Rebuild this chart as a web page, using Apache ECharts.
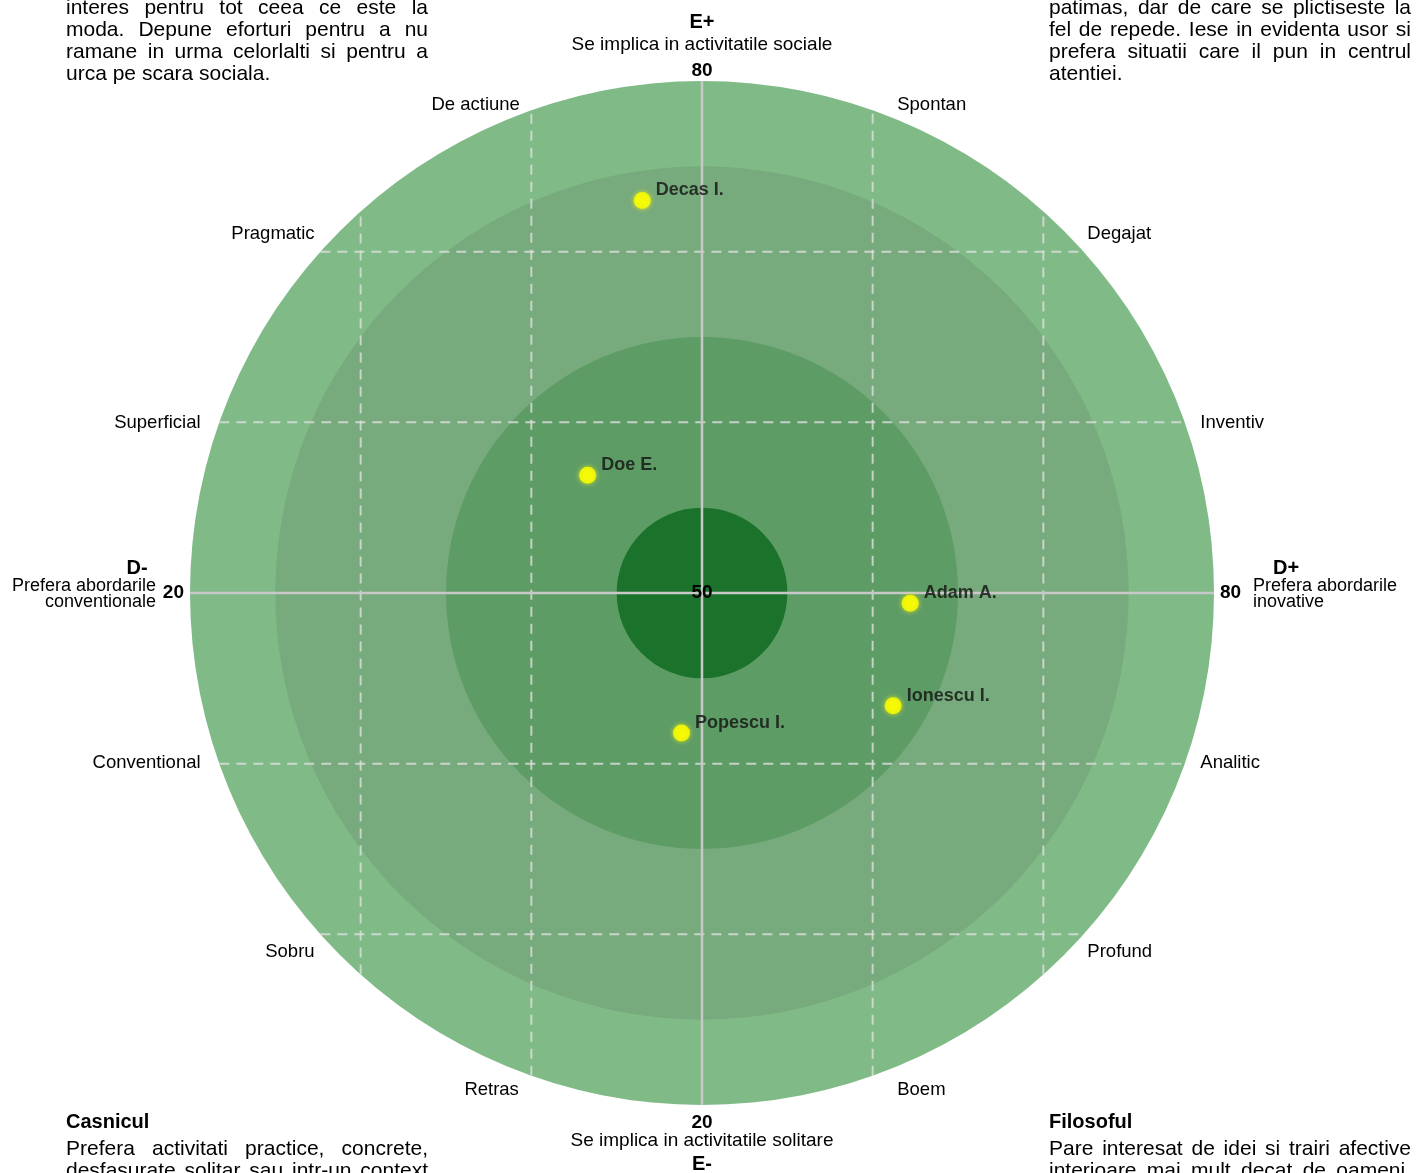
<!DOCTYPE html>
<html><head><meta charset="utf-8">
<script src="https://cdn.jsdelivr.net/npm/echarts@6/dist/echarts.min.js"></script>
<style>html,body{margin:0;padding:0;background:#fff}#c{width:1420px;height:1173px}</style>
</head><body><div id="c"></div>
<script>
const FAMILY = "'Liberation Sans', Arial, Helvetica, sans-serif";

// ---- data ----
const personNames = ['Decas I.', 'Doe E.', 'Adam A.', 'Ionescu I.', 'Popescu I.'];
const personX = [46.5, 43.3, 62.2, 61.2, 48.8];
const personY = [73.0, 56.9, 49.4, 43.4, 41.8];

const axisMin = 20, axisMid = 50, axisMax = 80;
const ringRadii = [30, 25, 15, 5];
const ringColors = ['#80bb87', '#77aa7c', '#5e9c66', '#1b722b'];
const gridValues = [30, 40, 60, 70];
const tickLabels = ['20', '50', '80'];

const descriptorNames = ['De actiune', 'Spontan', 'Pragmatic', 'Degajat', 'Superficial', 'Inventiv',
  'Conventional', 'Analitic', 'Sobru', 'Profund', 'Retras', 'Boem'];

const yTitleTop = 'E+', yDescTop = 'Se implica in activitatile sociale';
const yTitleBottom = 'E-', yDescBottom = 'Se implica in activitatile solitare';
const xTitleLeft = 'D-', xDescLeft = ['Prefera abordarile', 'conventionale'];
const xTitleRight = 'D+', xDescRight = ['Prefera abordarile', 'inovative'];

const textTopLeft = ['interes pentru tot ceea ce este la', 'moda. Depune eforturi pentru a nu',
  'ramane in urma celorlalti si pentru a', 'urca pe scara sociala.'];
const textTopRight = ['patimas, dar de care se plictiseste la', 'fel de repede. Iese in evidenta usor si',
  'prefera situatii care il pun in centrul', 'atentiei.'];
const titleBottomLeft = 'Casnicul';
const textBottomLeft = ['Prefera activitati practice, concrete,', 'desfasurate solitar sau intr-un context'];
const titleBottomRight = 'Filosoful';
const textBottomRight = ['Pare interesat de idei si trairi afective', 'interioare mai mult decat de oameni.'];

// ---- layout (not data) ----
const descLayout = [
  [39.33, 78.74, 'right'], [61.44, 78.74, 'left'],
  [27.3, 71.17, 'right'], [72.58, 71.17, 'left'],
  [20.62, 60.09, 'right'], [79.2, 60.09, 'left'],
  [20.62, 40.15, 'right'], [79.2, 40.15, 'left'],
  [27.3, 29.06, 'right'], [72.58, 29.06, 'left'],
  [39.27, 21.03, 'right'], [61.44, 21.03, 'left']
];
const f = (w, s) => w + ' ' + s + 'px ' + FAMILY;
const annotations = [
  { at: [axisMid, axisMax], dx: 0, dy: -12, text: tickLabels[2], font: f('bold', 19), align: 'center' },
  { at: [axisMid, axisMax], dx: 0, dy: -38, text: yDescTop, font: f('normal', 19), align: 'center' },
  { at: [axisMid, axisMax], dx: 0, dy: -61, text: yTitleTop, font: f('bold', 20), align: 'center' },
  { at: [axisMid, axisMin], dx: 0, dy: 16, text: tickLabels[0], font: f('bold', 19), align: 'center' },
  { at: [axisMid, axisMin], dx: 0, dy: 34, text: yDescBottom, font: f('normal', 19), align: 'center' },
  { at: [axisMid, axisMin], dx: 0, dy: 57, text: yTitleBottom, font: f('bold', 20), align: 'center' },
  { at: [axisMin, axisMid], dx: -6, dy: -2, text: tickLabels[0], font: f('bold', 19), align: 'right' },
  { at: [axisMin, axisMid], dx: -34, dy: -9, text: xDescLeft[0], font: f('normal', 18), align: 'right' },
  { at: [axisMin, axisMid], dx: -34, dy: 7, text: xDescLeft[1], font: f('normal', 18), align: 'right' },
  { at: [axisMin, axisMid], dx: -53, dy: -27, text: xTitleLeft, font: f('bold', 20), align: 'center' },
  { at: [axisMax, axisMid], dx: 6, dy: -2, text: tickLabels[2], font: f('bold', 19), align: 'left' },
  { at: [axisMax, axisMid], dx: 39, dy: -9, text: xDescRight[0], font: f('normal', 18), align: 'left' },
  { at: [axisMax, axisMid], dx: 39, dy: 7, text: xDescRight[1], font: f('normal', 18), align: 'left' },
  { at: [axisMax, axisMid], dx: 72, dy: -27, text: xTitleRight, font: f('bold', 20), align: 'center' },
  { at: [axisMid, axisMid], dx: 0, dy: -2, text: tickLabels[1], font: f('bold', 19), align: 'center' }
];
descriptorNames.forEach((n, i) => annotations.push({
  at: [descLayout[i][0], descLayout[i][1]], dx: 0, dy: 0, text: n, font: f('normal', 18.5), align: descLayout[i][2]
}));
const TEXT_DY = 2;

// ---- justified paragraphs ----
const mctx = document.createElement('canvas').getContext('2d');
function paraLines(lines, x0, width, y0, lh, font, justifyLast) {
  mctx.font = font;
  const out = [];
  lines.forEach((line, li) => {
    const y = y0 + li * lh;
    const words = line.split(' ');
    const justify = (li < lines.length - 1 || justifyLast) && words.length > 1;
    if (!justify) {
      out.push({ type: 'text', x: x0, y: y, style: { text: line, font: font, fill: '#000', align: 'left', verticalAlign: 'middle' } });
      return;
    }
    const ws = words.map(w => mctx.measureText(w).width);
    const gap = (width - ws.reduce((a, b) => a + b, 0)) / (words.length - 1);
    let x = x0;
    words.forEach((w, i) => {
      out.push({ type: 'text', x: x, y: y, style: { text: w, font: font, fill: '#000', align: 'left', verticalAlign: 'middle' } });
      x += ws[i] + gap;
    });
  });
  return out;
}
const pFont = f('normal', 21), tFont = f('bold', 20);
const graphics = [].concat(
  paraLines(textTopLeft, 66, 362, 8.5, 21.8, pFont, false),
  paraLines(textTopRight, 1049, 362, 8.5, 21.8, pFont, false),
  [{ type: 'text', x: 66, y: 1122.5, style: { text: titleBottomLeft, font: tFont, fill: '#000', align: 'left', verticalAlign: 'middle' } }],
  paraLines(textBottomLeft, 66, 362, 1149.5, 22, pFont, true),
  [{ type: 'text', x: 1049, y: 1122.5, style: { text: titleBottomRight, font: tFont, fill: '#000', align: 'left', verticalAlign: 'middle' } }],
  paraLines(textBottomRight, 1049, 362, 1149.5, 22, pFont, true)
);

const chart = echarts.init(document.getElementById('c'), null, { renderer: 'canvas' });
const R = ringRadii[0];
const option = {
  backgroundColor: '#ffffff',
  animation: false,
  grid: { left: 190, top: 81, width: 1024, height: 1024 },
  xAxis: { type: 'value', min: axisMin, max: axisMax, show: false },
  yAxis: { type: 'value', min: axisMin, max: axisMax, show: false },
  graphic: graphics,
  series: [
    {
      type: 'custom', silent: true, z: 1,
      data: ringRadii.map(r => [axisMid, axisMid, r]),
      renderItem: (params, api) => {
        const c = api.coord([api.value(0), api.value(1)]);
        const e = api.coord([api.value(0) + api.value(2), api.value(1)]);
        return { type: 'circle', shape: { cx: c[0], cy: c[1], r: e[0] - c[0] }, style: { fill: ringColors[params.dataIndex] } };
      }
    },
    {
      type: 'custom', silent: true, z: 2,
      data: gridValues.map(v => [v, axisMid]),
      renderItem: (params, api) => {
        const v = api.value(0);
        const h = Math.sqrt(R * R - (v - axisMid) * (v - axisMid));
        const a1 = api.coord([v, axisMid - h]), a2 = api.coord([v, axisMid + h]);
        const b1 = api.coord([axisMid - h, v]), b2 = api.coord([axisMid + h, v]);
        const st = { stroke: 'rgba(222,222,222,0.8)', lineWidth: 2, lineDash: [10, 7] };
        return { type: 'group', children: [
          { type: 'line', shape: { x1: a1[0], y1: a1[1], x2: a2[0], y2: a2[1] }, style: st },
          { type: 'line', shape: { x1: b1[0], y1: b1[1], x2: b2[0], y2: b2[1] }, style: st }
        ] };
      }
    },
    {
      type: 'custom', silent: true, z: 3,
      data: [[axisMid, axisMid]],
      renderItem: (params, api) => {
        const a1 = api.coord([axisMid, axisMid - R]), a2 = api.coord([axisMid, axisMid + R]);
        const b1 = api.coord([axisMid - R, axisMid]), b2 = api.coord([axisMid + R, axisMid]);
        const st = { stroke: '#c8c8c8', lineWidth: 2.5 };
        return { type: 'group', children: [
          { type: 'line', shape: { x1: a1[0], y1: a1[1], x2: a2[0], y2: a2[1] }, style: st },
          { type: 'line', shape: { x1: b1[0], y1: b1[1], x2: b2[0], y2: b2[1] }, style: st }
        ] };
      }
    },
    {
      type: 'scatter', z: 5, symbol: 'circle', symbolSize: 17,
      itemStyle: { color: '#ffff00', shadowBlur: 5, shadowColor: 'rgba(255,255,0,0.9)' },
      label: { show: true, position: 'right', distance: 5, offset: [0, -10], formatter: '{b}',
        fontFamily: FAMILY, fontSize: 18, fontWeight: 'bold', color: '#111' },
      data: personNames.map((n, i) => ({ name: n, value: [personX[i], personY[i]] }))
    },
    {
      type: 'custom', silent: true, z: 6,
      data: annotations.map(a => a.at),
      renderItem: (params, api) => {
        const a = annotations[params.dataIndex];
        const p = api.coord([api.value(0), api.value(1)]);
        return { type: 'text', x: p[0] + a.dx, y: p[1] + a.dy + TEXT_DY,
          style: { text: a.text, font: a.font, fill: '#000', align: a.align, verticalAlign: 'middle' } };
      }
    }
  ]
};
chart.setOption(option);
</script>
</body></html>
